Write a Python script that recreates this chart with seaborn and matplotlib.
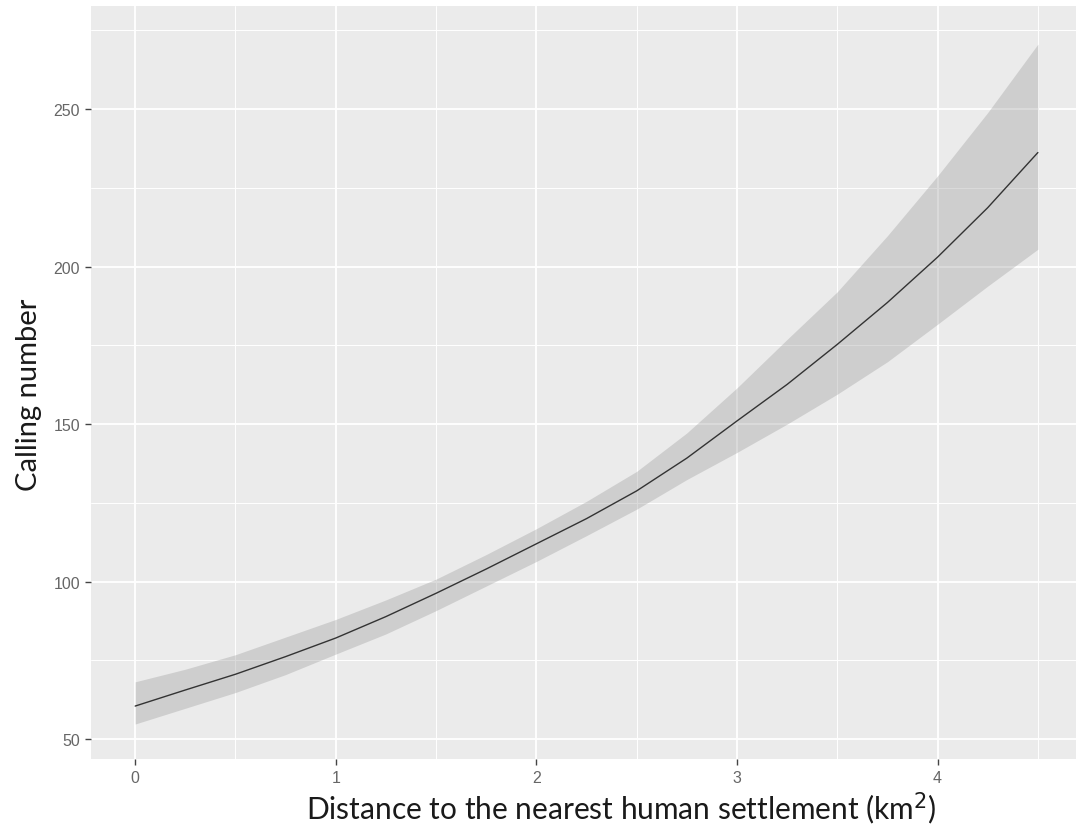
import numpy as np
import pandas as pd
import seaborn as sns
import matplotlib.pyplot as plt
from matplotlib.ticker import MultipleLocator

# values
distance = [0.0, 0.25, 0.5, 0.75, 1.0, 1.25, 1.5, 1.75, 2.0, 2.25,
            2.5, 2.75, 3.0, 3.25, 3.5, 3.75, 4.0, 4.25, 4.5]
calls_fit = [60.5, 65.6, 70.6, 76.2, 82.1, 88.9, 96.3, 104.0, 112.0, 120.0,
             128.8, 139.2, 151.0, 162.6, 175.3, 188.6, 203.0, 218.7, 236.2]
calls_upper = [68.2, 72.2, 76.8, 82.4, 88.0, 94.2, 100.8, 108.6, 116.8, 125.5,
               135.0, 147.2, 161.5, 176.9, 192.0, 209.8, 228.8, 248.9, 270.6]
calls_lower = [54.8, 59.8, 64.8, 70.5, 77.0, 83.4, 90.8, 98.6, 106.4, 114.6,
               123.0, 132.4, 141.0, 150.0, 159.5, 169.8, 181.7, 193.8, 205.5]

y_ticks = [50, 100, 150, 200, 250]
x_ticks = [0, 1, 2, 3, 4]

df = pd.DataFrame({'distance': distance, 'fit': calls_fit,
                   'upper': calls_upper, 'lower': calls_lower})

sns.set_theme(style='darkgrid', rc={
    'axes.facecolor': '#EBEBEB',
    'grid.color': 'white',
    'axes.edgecolor': '#EBEBEB',
})

fig = plt.figure(figsize=(10.76, 8.37), dpi=100)
ax = fig.add_axes([0.0846, 0.092, 0.9154, 0.8996])

# confidence band + fitted curve
ax.fill_between(df['distance'], df['lower'], df['upper'],
                color='#999999', alpha=0.35, linewidth=0, zorder=2)
sns.lineplot(data=df, x='distance', y='fit', ax=ax, color='#333333',
             linewidth=1.0, zorder=3)

ax.set_xlim(-0.22, 4.69)
ax.set_ylim(43.7, 282.7)
ax.set_xticks(x_ticks)
ax.set_yticks(y_ticks)
ax.xaxis.set_minor_locator(MultipleLocator(0.5))
ax.yaxis.set_minor_locator(MultipleLocator(25))
ax.grid(which='major', color='white', linewidth=1.3)
ax.grid(which='minor', color='white', linewidth=0.7)
ax.set_axisbelow(True)
for s in ax.spines.values():
    s.set_visible(False)

ax.tick_params(axis='both', which='major', length=4, width=1, color='#444444',
               labelcolor='#666666', labelsize=11.5, left=True, bottom=True,
               pad=4)
ax.tick_params(which='minor', length=0)
for lab in ax.get_xticklabels() + ax.get_yticklabels():
    lab.set_family(['Liberation Sans', 'DejaVu Sans'])

ax.set_xlabel('Distance to the nearest human settlement (km$^2$)',
              fontsize=21.5, family=['Lato', 'DejaVu Sans'], color='#1a1a1a')
ax.set_ylabel('Calling number', fontsize=21, family=['Lato', 'DejaVu Sans'],
              color='#1a1a1a')
ax.xaxis.set_label_coords(0.538, -0.040)
ax.yaxis.set_label_coords(-0.05, 0.485)

fig.savefig('out.png', dpi=100)
